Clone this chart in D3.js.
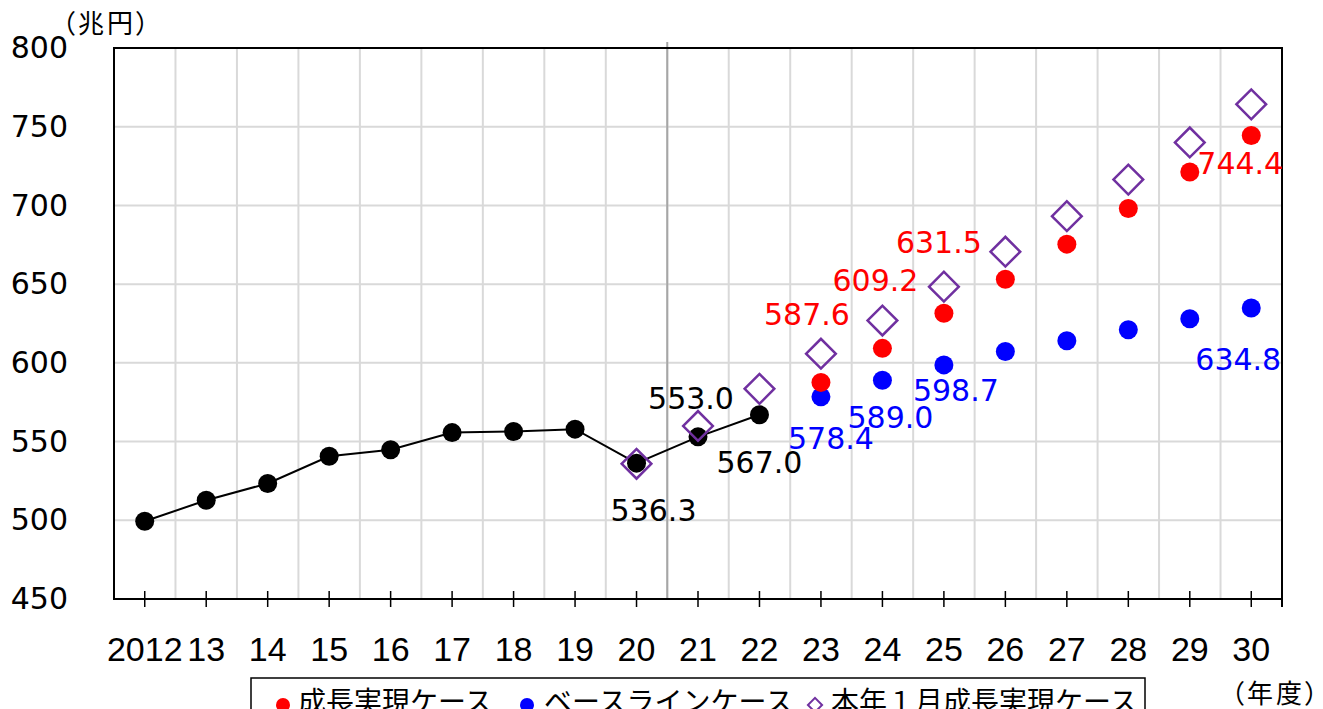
<!DOCTYPE html>
<html>
<head>
<meta charset="utf-8">
<script src="https://cdn.jsdelivr.net/npm/d3@7"></script>
<style>
  html, body { margin: 0; padding: 0; background: #fff; }
  svg { display: block; }
  .cap { font-feature-settings: "palt"; letter-spacing: 3px; }
</style>
</head>
<body>
<svg id="chart" width="1323" height="709"></svg>
<script>
// Fiscal years on the horizontal axis
const years = ["2012","13","14","15","16","17","18","19","20","21","22","23","24","25","26","27","28","29","30"];

// Nominal GDP, trillion yen
const actual   = [499.4, 512.7, 523.4, 540.7, 544.8, 555.7, 556.4, 557.9, 536.3, 553.0, 567.0, null, null, null, null, null, null, null, null];
const growth   = [null, null, null, null, null, null, null, null, null, null, null, 587.6, 609.2, 631.5, 653.1, 675.4, 698.0, 721.2, 744.4];
const baseline = [null, null, null, null, null, null, null, null, null, null, null, 578.4, 589.0, 598.7, 607.2, 614.0, 621.0, 628.0, 634.8];
const january  = [null, null, null, null, null, null, null, null, 535.9, 559.9, 583.5, 605.8, 626.9, 648.4, 670.6, 693.2, 716.4, 740.0, 764.2];

const yTicks = [450, 500, 550, 600, 650, 700, 750, 800];
const legendNames = ["成長実現ケース", "ベースラインケース", "本年１月成長実現ケース"];

// Which points carry a value label, and where the label sits relative to the point
const labelled = [
  { s: "actual",   i: 8,  dx: 17,  dy: 58 },
  { s: "actual",   i: 9,  dx: -7,  dy: -28 },
  { s: "actual",   i: 10, dx: 0,   dy: 58 },
  { s: "growth",   i: 11, dx: -14, dy: -57 },
  { s: "growth",   i: 12, dx: -7,  dy: -57 },
  { s: "growth",   i: 13, dx: -5,  dy: -60 },
  { s: "growth",   i: 18, dx: -11, dy: 38 },
  { s: "baseline", i: 11, dx: 10,  dy: 52 },
  { s: "baseline", i: 12, dx: 8,   dy: 48 },
  { s: "baseline", i: 13, dx: 12,  dy: 36 },
  { s: "baseline", i: 18, dx: -13, dy: 62 }
];

const series = { actual, growth, baseline, january };
const colors = { actual: "#000000", growth: "#ff0000", baseline: "#0000ff", january: "#7030a0" };

const svg = d3.select("#chart");
const plot = { left: 114, right: 1282, top: 48, bottom: 599 };

const x = d3.scaleBand().domain(years).range([plot.left, plot.right]).paddingInner(0).paddingOuter(0);
const y = d3.scaleLinear().domain([450, 800]).range([plot.bottom, plot.top]);
const cx = d => x(d) + x.bandwidth() / 2;

const numFont = "'DejaVu Sans', Verdana, sans-serif";
const cjkFont = "'Noto Sans CJK JP', sans-serif";

// Grid
const grid = svg.append("g");
grid.selectAll("line.h").data(yTicks.slice(1, -1)).join("line")
  .attr("x1", plot.left).attr("x2", plot.right)
  .attr("y1", d => y(d)).attr("y2", d => y(d))
  .attr("stroke", "#d9d9d9").attr("stroke-width", 2);
grid.selectAll("line.v").data(years.slice(1)).join("line")
  .attr("x1", d => x(d)).attr("x2", d => x(d))
  .attr("y1", plot.top).attr("y2", plot.bottom)
  .attr("stroke", "#d9d9d9").attr("stroke-width", 2);

// Divider between results and projections
svg.append("line")
  .attr("x1", x("21")).attr("x2", x("21"))
  .attr("y1", plot.top - 6).attr("y2", plot.bottom)
  .attr("stroke", "#a6a6a6").attr("stroke-width", 2);

// Frame
svg.append("rect")
  .attr("x", plot.left).attr("y", plot.top)
  .attr("width", plot.right - plot.left).attr("height", plot.bottom - plot.top)
  .attr("fill", "none").attr("stroke", "#000").attr("stroke-width", 2);
svg.append("line")
  .attr("x1", plot.right).attr("x2", plot.right)
  .attr("y1", plot.bottom).attr("y2", plot.bottom + 8)
  .attr("stroke", "#000").attr("stroke-width", 2);

// X axis: ticks crossing the baseline, labels below
const xAxis = svg.append("g")
  .attr("transform", `translate(0,${plot.bottom - 8})`)
  .call(d3.axisBottom(x).tickSize(16).tickPadding(30));
xAxis.select(".domain").remove();
xAxis.selectAll(".tick line").attr("stroke", "#000").attr("stroke-width", 1.5);
xAxis.selectAll(".tick text")
  .attr("fill", "#000")
  .style("font-family", "'Liberation Sans Narrow', 'Arial Narrow', sans-serif")
  .style("font-size", "34px");

// Y axis labels
const yAxis = svg.append("g")
  .attr("transform", "translate(68,0)")
  .call(d3.axisLeft(y).tickValues(yTicks).tickSize(0).tickPadding(0));
yAxis.select(".domain").remove();
yAxis.selectAll(".tick text")
  .attr("fill", "#000")
  .style("font-family", numFont)
  .style("font-size", "30px");

// Unit captions
svg.append("text").attr("class", "cap")
  .attr("x", 62).attr("y", 33)
  .style("font-family", cjkFont).style("font-size", "26px")
  .text("（兆円）");
svg.append("text").attr("class", "cap")
  .attr("x", 1231).attr("y", 703)
  .style("font-family", cjkFont).style("font-size", "26px")
  .text("（年度）");

// Actual line
const pts = years.map((d, i) => ({ d, v: actual[i] })).filter(p => p.v != null);
svg.append("path")
  .datum(pts)
  .attr("fill", "none").attr("stroke", "#000").attr("stroke-width", 2)
  .attr("d", d3.line().x(p => cx(p.d)).y(p => y(p.v)));

function dots(arr, color) {
  svg.append("g").selectAll("circle")
    .data(years.map((d, i) => ({ d, v: arr[i] })).filter(p => p.v != null))
    .join("circle")
    .attr("cx", p => cx(p.d)).attr("cy", p => y(p.v)).attr("r", 9.5)
    .attr("fill", color);
}
dots(actual, colors.actual);
dots(baseline, colors.baseline);
dots(growth, colors.growth);

// January projection as hollow diamonds
svg.append("g").selectAll("path")
  .data(years.map((d, i) => ({ d, v: january[i] })).filter(p => p.v != null))
  .join("path")
  .attr("transform", p => `translate(${cx(p.d)},${y(p.v)}) rotate(45)`)
  .attr("d", d3.symbol().type(d3.symbolSquare).size(21 * 21))
  .attr("fill", "none").attr("stroke", colors.january).attr("stroke-width", 2.5);

// Value labels
svg.append("g").selectAll("text")
  .data(labelled)
  .join("text")
  .attr("x", l => cx(years[l.i]) + l.dx)
  .attr("y", l => y(series[l.s][l.i]) + l.dy)
  .attr("text-anchor", "middle")
  .attr("fill", l => colors[l.s])
  .style("font-family", numFont).style("font-size", "30px")
  .text(l => series[l.s][l.i].toFixed(1));

// Legend
const lg = svg.append("g");
lg.append("rect")
  .attr("x", 251).attr("y", 678).attr("width", 894).attr("height", 60)
  .attr("fill", "#fff").attr("stroke", "#000").attr("stroke-width", 1.5);
const legendItems = [
  { name: legendNames[0], key: "growth",   mx: 283, tx: 298 },
  { name: legendNames[1], key: "baseline", mx: 527, tx: 544 },
  { name: legendNames[2], key: "january",  mx: 815, tx: 831 }
];
legendItems.forEach(it => {
  if (it.key === "january") {
    lg.append("path")
      .attr("transform", `translate(${it.mx},705) rotate(45)`)
      .attr("d", d3.symbol().type(d3.symbolSquare).size(10 * 10))
      .attr("fill", "none").attr("stroke", colors.january).attr("stroke-width", 2);
  } else {
    lg.append("circle").attr("cx", it.mx).attr("cy", 705).attr("r", 7).attr("fill", colors[it.key]);
  }
  lg.append("text")
    .attr("x", it.tx).attr("y", 712)
    .style("font-family", cjkFont).style("font-size", "28px")
    .text(it.name);
});
</script>
</body>
</html>
